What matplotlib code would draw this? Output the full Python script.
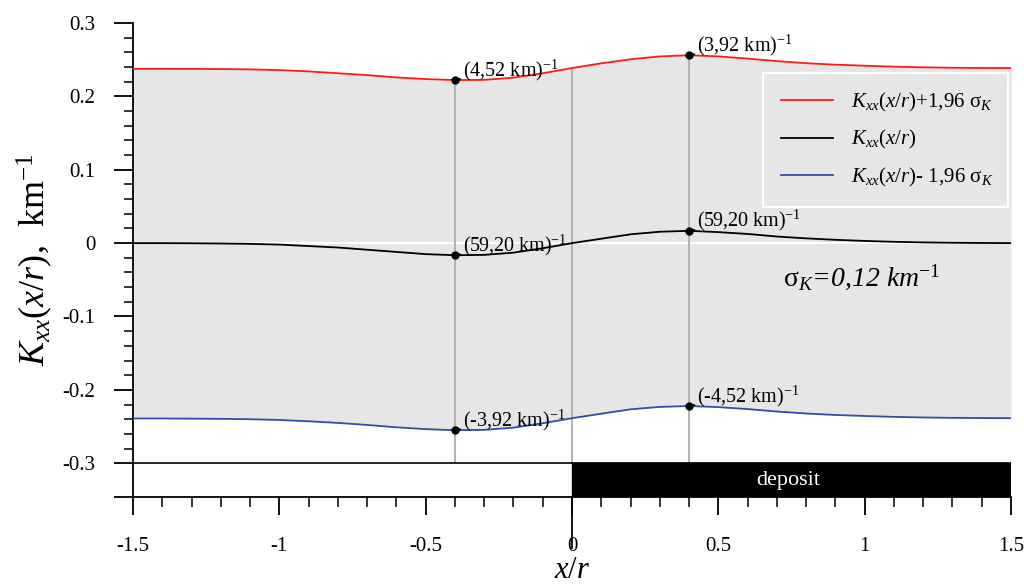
import numpy as np
import matplotlib
matplotlib.use('Agg')
import matplotlib.pyplot as plt
from matplotlib.patches import Rectangle

plt.rcParams['font.family'] = 'serif'
plt.rcParams['font.serif'] = ['Liberation Serif']
plt.rcParams['mathtext.fontset'] = 'custom'
plt.rcParams['mathtext.rm'] = 'Liberation Serif'
plt.rcParams['mathtext.it'] = 'Liberation Serif:italic'
plt.rcParams['axes.unicode_minus'] = False

# Profil x/r und Kxx-Werte
x = [-1.5, -1.4, -1.3, -1.2, -1.1, -1.0, -0.9, -0.8, -0.7, -0.6, -0.5,
     -0.4, -0.3, -0.2, -0.1, 0.0, 0.1, 0.2, 0.3, 0.4, 0.5,
     0.6, 0.7, 0.8, 0.9, 1.0, 1.1, 1.2, 1.3, 1.4, 1.5]
k_mean = [0.0, 0.0, -0.0002, -0.0005, -0.001, -0.002, -0.004, -0.006, -0.009, -0.012, -0.015,
          -0.0165, -0.016, -0.013, -0.007, 0.0, 0.006, 0.012, 0.0155, 0.0168, 0.015,
          0.0125, 0.009, 0.0065, 0.0045, 0.003, 0.0018, 0.001, 0.0005, 0.0002, 0.0]
k_upper = [0.2375, 0.2375, 0.2374, 0.2372, 0.2368, 0.2358, 0.2340, 0.2315, 0.2290, 0.2258, 0.2236,
           0.2222, 0.2225, 0.2255, 0.2315, 0.2386, 0.2450, 0.2505, 0.2545, 0.2560, 0.2545,
           0.2515, 0.2480, 0.2452, 0.2432, 0.2418, 0.2405, 0.2396, 0.2390, 0.2387, 0.2386]
k_lower = [-0.2390, -0.2390, -0.2392, -0.2395, -0.2400, -0.2410, -0.2428, -0.2450, -0.2478, -0.2510, -0.2535,
           -0.2550, -0.2545, -0.2515, -0.2455, -0.2386, -0.2325, -0.2265, -0.2232, -0.2220, -0.2235,
           -0.2262, -0.2295, -0.2322, -0.2342, -0.2356, -0.2368, -0.2376, -0.2381, -0.2384, -0.2386]

# markierte Punkte und Beschriftungen
mark_x = [-0.4, 0.4]
upper_labels = ['(4,52 km)', '(3,92 km)']
mean_labels = ['(59,20 km)', '(59,20 km)']
lower_labels = ['(-3,92 km)', '(-4,52 km)']
guide_x = [-0.4, 0.0, 0.4]

xticks = [-1.5, -1.0, -0.5, 0.0, 0.5, 1.0, 1.5]
xticklabels = ['-1.5', '-1', '-0.5', '0', '0.5', '1', '1.5']
yticks = [-0.3, -0.2, -0.1, 0.0, 0.1, 0.2, 0.3]
yticklabels = ['-0.3', '-0.2', '-0.1', '0', '0.1', '0.2', '0.3']

deposit_start, deposit_end = 0.0, 1.5
y_bottom = -0.346
y_strip = -0.3

fig = plt.figure(figsize=(10.24, 5.85), dpi=100)
ax = fig.add_axes([133 / 1024, 1 - 497 / 585, 878 / 1024, 474 / 585])
ax.set_xlim(-1.5, 1.5)
ax.set_ylim(y_bottom, 0.3)

# graues Band zwischen den Grenzen
ax.fill_between(x, k_lower, k_upper, color='#e6e6e6', lw=0, zorder=1)
ax.axhline(0, color='white', lw=1.5, zorder=1.5)
ax.vlines(guide_x, y_strip, np.interp(guide_x, x, k_upper), color='#b4b4b4', lw=1.5, zorder=2)

# Streifen unten mit Lagerstätte
ax.axhline(y_strip, color='black', lw=1.2, zorder=3)
ax.add_patch(Rectangle((deposit_start, y_bottom), deposit_end - deposit_start, y_strip - y_bottom,
                       facecolor='black', edgecolor='black', zorder=3))
ax.text(0.74, (y_strip + y_bottom) / 2, 'deposit', color='white',
        ha='center', va='center', fontsize=16, zorder=4)

ax.plot(x, k_upper, color='#ff1a1a', lw=1.3, zorder=4, label=r'$K_{xx}(x/r)$+1,96 $\mathrm{\sigma}_K$')
ax.plot(x, k_mean, color='black', lw=1.3, zorder=4, label=r'$K_{xx}(x/r)$')
ax.plot(x, k_lower, color='#2f4fa8', lw=1.3, zorder=4, label=r'$K_{xx}(x/r)$- 1,96 $\mathrm{\sigma}_K$')

for vals, labels in [(k_upper, upper_labels), (k_mean, mean_labels), (k_lower, lower_labels)]:
    ys = np.interp(mark_x, x, vals)
    ax.plot(mark_x, ys, 'o', color='black', ms=5, zorder=5)
    for mx, my, lbl in zip(mark_x, ys, labels):
        ax.annotate(lbl + r'$^{-1}$', xy=(mx, my), xytext=(8, 10), textcoords='offset pixels',
                    ha='left', va='center', fontsize=14.5, zorder=6,
                    arrowprops=dict(arrowstyle='-', lw=1.5, color='black', shrinkA=0, shrinkB=0))

ax.text(0.72, -0.047, r'$\mathrm{\sigma}_K$=0,12 km$^{-1}$', style='italic', fontsize=20,
        ha='left', va='center')

leg = ax.legend(loc='upper left', bbox_to_anchor=(0.7175, 0.612, 0.279, 0.2825), mode='expand',
                borderaxespad=0, fontsize=15, handlelength=2.5, handletextpad=0.87,
                labelspacing=0.7, borderpad=0.85,
                fancybox=False, framealpha=1, facecolor='#e6e6e6', edgecolor='white')
leg.get_frame().set_linewidth(1.5)

# Achsen
for s in ['top', 'right']:
    ax.spines[s].set_visible(False)
for s in ['left', 'bottom']:
    ax.spines[s].set_linewidth(1.3)

ax.set_xticks(xticks, xticklabels)
ax.set_xticks(np.arange(-1.5, 1.51, 0.1), minor=True)
ax.set_yticks(yticks + [y_bottom], yticklabels + [''])
ax.set_yticks(np.arange(-0.3, 0.301, 0.02), minor=True)
ax.tick_params(axis='x', which='major', direction='out', length=13, width=1.3, labelsize=15, pad=16)
ax.tick_params(axis='x', which='minor', direction='out', length=7, width=1.1)
ax.tick_params(axis='y', which='major', direction='out', length=14, width=1.3, labelsize=15, pad=13)
ax.tick_params(axis='y', which='minor', direction='out', length=6.5, width=1.1)
ax.plot([0, 0], [y_bottom, y_bottom - 0.07], color='black', lw=1.3, clip_on=False)

ax.set_xlabel(r'$x/r$', fontsize=22)
ax.xaxis.set_label_coords(0.5, -0.125)
ax.set_ylabel(r'$K_{xx}(x/r)$,  km$^{-1}$', fontsize=26)
ax.yaxis.set_label_coords(-0.089, 0.5)

fig.savefig('out.png', dpi=100)
